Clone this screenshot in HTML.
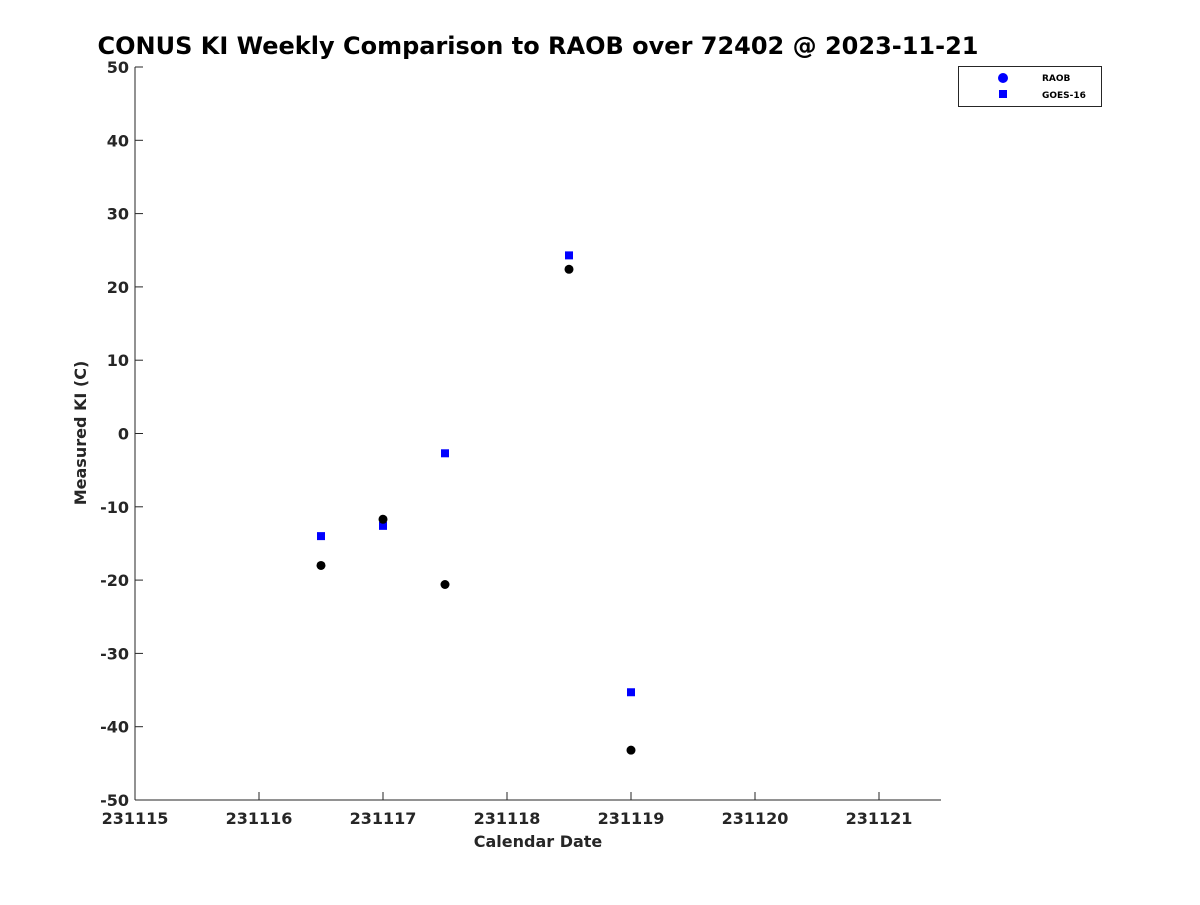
<!DOCTYPE html>
<html><head><meta charset="utf-8"><style>
body{margin:0;background:#fff}
svg text{font-family:"DejaVu Sans","Liberation Sans",sans-serif;font-weight:bold}
</style></head><body>
<svg id="chart" width="1200" height="900" xmlns="http://www.w3.org/2000/svg">
<text x="538" y="54" font-size="24" text-anchor="middle" fill="#000">CONUS KI Weekly Comparison to RAOB over 72402 @ 2023-11-21</text>
<g id="axes"></g>
<g id="marks"></g>
<text x="538" y="847" font-size="16" text-anchor="middle" fill="#262626">Calendar Date</text>
<text transform="translate(86,433) rotate(-90)" font-size="16" text-anchor="middle" fill="#262626">Measured KI (C)</text>
<g>
<rect x="958.5" y="66.5" width="143" height="40" fill="#fff" stroke="#262626"/>
<circle cx="1003" cy="78" r="5" fill="#0000ff"/>
<text x="1042" y="81" font-size="9" fill="#000">RAOB</text>
<rect x="999" y="90" width="8" height="8" fill="#0000ff"/>
<text x="1042" y="98" font-size="9" fill="#000">GOES-16</text>
</g>
</svg>
<script>
const xTicks=[231115,231116,231117,231118,231119,231120,231121];
const yTicks=[-50,-40,-30,-20,-10,0,10,20,30,40,50];
const raobX=[231116.5,231117.0,231117.5,231118.5,231119.0];
const raobY=[-18.0,-11.7,-20.6,22.4,-43.2];
const goesX=[231116.5,231117.0,231117.5,231118.5,231119.0];
const goesY=[-14.0,-12.6,-2.7,24.3,-35.3];
const NS="http://www.w3.org/2000/svg";
const L=135,R=941,T=67,B=800,xMin=231115,xMax=231121.5,yMin=-50,yMax=50;
const sx=v=>L+(v-xMin)/(xMax-xMin)*(R-L);
const sy=v=>B-(v-yMin)/(yMax-yMin)*(B-T);
const axes=document.getElementById('axes'),marks=document.getElementById('marks');
function mk(tag,at,parent){const e=document.createElementNS(NS,tag);for(const k in at)e.setAttribute(k,at[k]);parent.appendChild(e);return e;}
const xa=mk('path',{d:`M${L},${B}H${R}`,stroke:'#262626',fill:'none'},axes);


const ya=mk('path',{d:`M${L},${T}V${B}`,stroke:'#262626',fill:'none'},axes);


xTicks.forEach(v=>{const x=sx(v);
const t=mk('line',{x1:x,x2:x,y1:B,y2:B-8,stroke:'#262626'},axes);


const l=mk('text',{x:x,y:B+24,'font-size':16,'text-anchor':'middle',fill:'#262626'},axes);l.textContent=v;

});
yTicks.forEach(v=>{const y=sy(v);
const t=mk('line',{x1:L,x2:L+8,y1:y,y2:y,stroke:'#262626'},axes);


const l=mk('text',{x:L-6,y:y+6,'font-size':16,'text-anchor':'end',fill:'#262626'},axes);l.textContent=v;

});
goesX.forEach((v,i)=>{const r=mk('rect',{x:sx(v)-4,y:sy(goesY[i])-4,width:8,height:8,fill:'#0000ff'},marks);

});
raobX.forEach((v,i)=>{const c=mk('circle',{cx:sx(v),cy:sy(raobY[i]),r:4.5,fill:'#000'},marks);

});
</script>
</body></html>
